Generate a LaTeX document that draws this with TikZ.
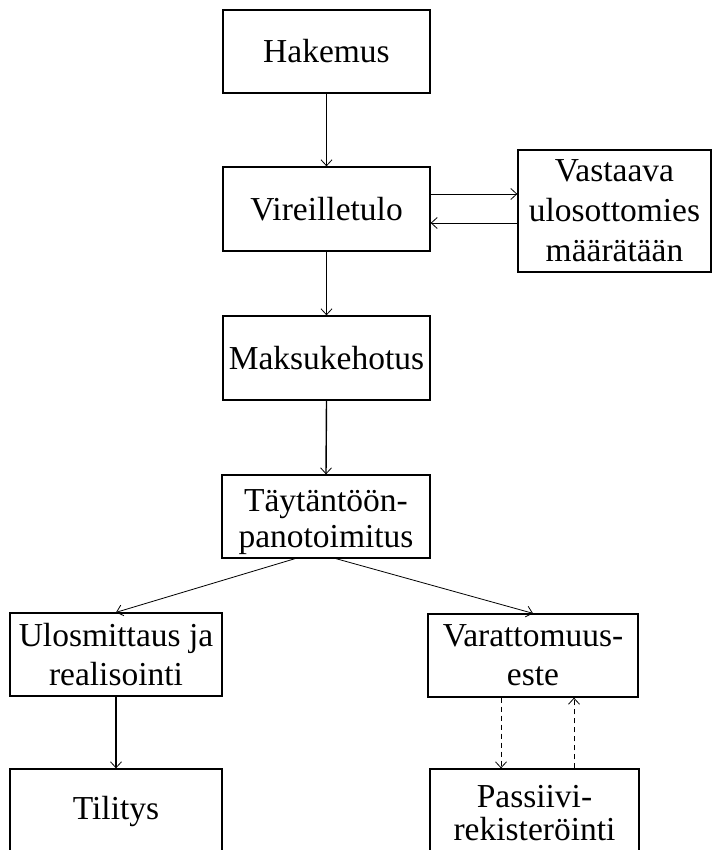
\documentclass[tikz,border=0pt]{standalone}
\usepackage{fontspec}
\setmainfont{Liberation Serif}
\usetikzlibrary{arrows.meta}
\newcommand{\lowline}[2]{\raisebox{-#1}[0pt][0pt]{#2}}
\begin{document}
\begin{tikzpicture}[x=1pt,y=-1pt,
  box/.style={draw, line width=1.3pt, inner sep=0pt, align=center,
    font=\fontsize{33.5}{40}\selectfont},
  conn/.style={line width=0.8pt, -{Straight Barb[length=6pt,width=11pt,line width=0.8pt]}},
  thick conn/.style={conn, line width=1.4pt},
  dconn/.style={conn, dash pattern=on 5pt off 4pt}]
\useasboundingbox (0,0) rectangle (713,850);
\clip (0,0) rectangle (713,850);
\node[box, minimum width=207pt, minimum height=83pt] (hak) at (326.5,51.5) {Hakemus};
\node[box, minimum width=207pt, minimum height=84pt] (vir) at (326.5,209) {Vireilletulo};
\node[box, minimum width=193pt, minimum height=122pt] (vas) at (614.5,211) {Vastaava\\ulosottomies\\määrätään};
\node[box, minimum width=207pt, minimum height=84pt] (mak) at (326.5,358) {Maksukehotus};
\node[box, minimum width=208pt, minimum height=83pt, font=\fontsize{33.5}{36}\selectfont] (tay) at (326,516.5)
  {\lowline{13pt}{Täytäntöön-}\\\lowline{13pt}{panotoimitus}};
\node[box, minimum width=212pt, minimum height=83pt, font=\fontsize{33.5}{39}\selectfont] (ulo) at (116,654.5) {Ulosmittaus ja\\realisointi};
\node[box, minimum width=210pt, minimum height=83pt, font=\fontsize{33.5}{39}\selectfont] (var) at (533,655.5) {Varattomuus-\\este};
\node[box, minimum width=212pt, minimum height=84pt] (til) at (116,811) {Tilitys};
\node[box, minimum width=209pt, minimum height=84pt, font=\fontsize{33.5}{33}\selectfont] (pas) at (534.5,811)
  {\lowline{13pt}{Passiivi-}\\\lowline{13pt}{rekisteröinti}};
\draw[conn] (hak.south) -- (vir.north);
\draw[conn] ([yshift=15pt]vir.east) -- ([yshift=15pt]vir.east -| vas.west);
\draw[conn] ([yshift=-14pt]vir.east -| vas.west) -- ([yshift=-14pt]vir.east);
\draw[conn] (vir.south) -- (mak.north);
\draw[thick conn] (mak.south) -- (tay.north);
\draw[conn] ([xshift=-31pt]tay.south) -- (ulo.north);
\draw[conn] ([xshift=10pt]tay.south) -- (var.north);
\draw[thick conn] (ulo.south) -- (til.north);
\draw[dconn] ([xshift=-32pt]var.south) -- ([xshift=-32pt]var.south |- pas.north);
\draw[dconn] ([xshift=41pt]var.south |- pas.north) -- ([xshift=41pt]var.south);
\end{tikzpicture}
\end{document}
